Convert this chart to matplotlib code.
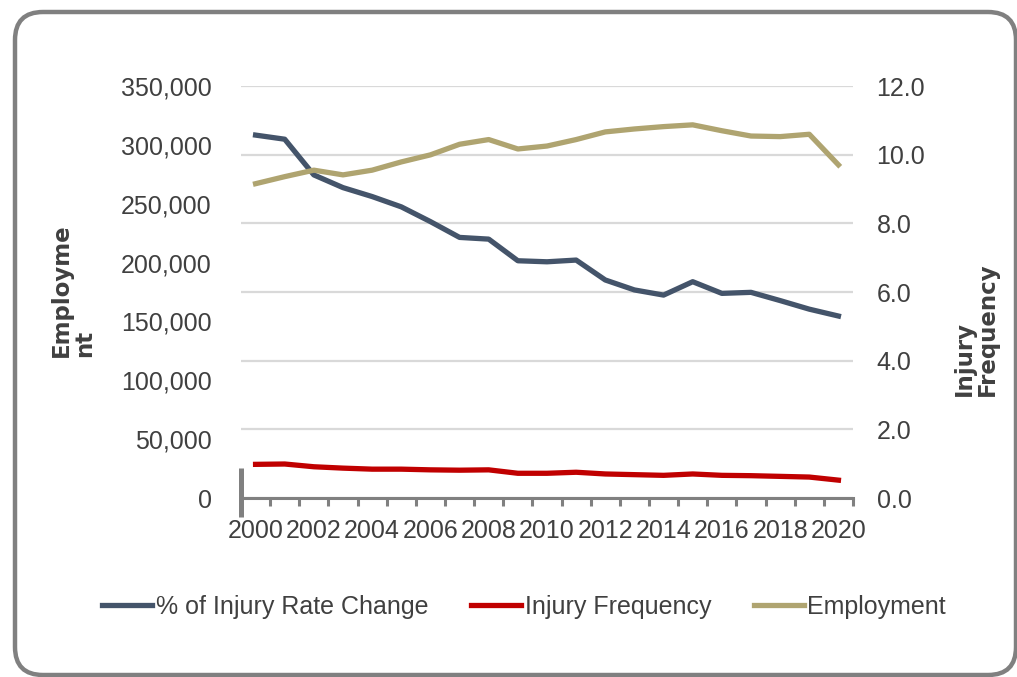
import matplotlib
matplotlib.use('Agg')
import matplotlib.pyplot as plt
from matplotlib.patches import FancyBboxPatch
from matplotlib.ticker import FuncFormatter
import numpy as np

plt.rcParams['font.family'] = ['Liberation Sans', 'DejaVu Sans']

years = list(range(2000, 2021))
rate_change = [10.57, 10.45, 9.41, 9.04, 8.78, 8.48, 8.05, 7.59, 7.54, 6.91, 6.88,
               6.93, 6.35, 6.06, 5.91, 6.30, 5.96, 5.99, 5.75, 5.50, 5.30]
injury_freq = [0.98, 0.99, 0.91, 0.87, 0.84, 0.84, 0.82, 0.81, 0.82, 0.72, 0.72,
               0.75, 0.70, 0.68, 0.66, 0.70, 0.66, 0.65, 0.63, 0.61, 0.52]
employment = [267000, 273000, 278500, 274500, 278500, 285500, 291500, 300500, 304500,
              296500, 299000, 304500, 311000, 313500, 315500, 317000, 312000, 307500,
              307000, 309000, 283000]

txt = '#404040'
axis_gray = '#808080'

fig = plt.figure(figsize=(10.17, 6.77), dpi=100)

# rounded frame around the whole chart (runs slightly past the right/bottom edge)
bg = fig.add_axes([0, 0, 1, 1])
bg.set_xlim(0, 1017)
bg.set_ylim(677, 0)
bg.axis('off')
bg.add_patch(FancyBboxPatch((15, 12), 1001, 663, boxstyle='round,pad=0,rounding_size=28',
                            fc='white', ec=axis_gray, lw=3.2))

ax = fig.add_axes([241 / 1017, 1 - 498 / 677, 612 / 1017, 412 / 677])
ax2 = ax.twinx()
ax.set_zorder(ax2.get_zorder() + 1)
ax.patch.set_visible(False)

x = np.arange(len(years))
l1, = ax2.plot(x, rate_change, color='#44546a', lw=3.8)
l2, = ax2.plot(x, injury_freq, color='#c00000', lw=3.8)
l3, = ax.plot(x, employment, color='#afa470', lw=3.8)

ax.set_xlim(-0.5, 20.5)
ax.set_ylim(0, 350000)
ax2.set_ylim(0, 12)

ax.set_yticks(range(0, 350001, 50000))
ax.yaxis.set_major_formatter(FuncFormatter(lambda v, p: f'{int(v):,}'))
ax2.set_yticks(np.arange(0, 12.1, 2))
ax2.yaxis.set_major_formatter(FuncFormatter(lambda v, p: f'{v:.1f}'))
ax2.grid(axis='y', color='#d9d9d9', lw=1.6)
ax2.set_axisbelow(True)

ax.set_xticks(x)
ax.set_xticklabels([str(y) if y % 2 == 0 else '' for y in years])
ax.set_xticks(np.arange(0.5, 20.6, 1), minor=True)

ax.tick_params(axis='y', length=0, pad=21, labelsize=18, labelcolor=txt)
ax2.tick_params(axis='y', length=0, pad=17, labelsize=18, labelcolor=txt)
ax.tick_params(axis='x', which='major', length=0, pad=15, labelsize=18, labelcolor=txt)
ax.tick_params(axis='x', which='minor', length=6, width=2.2, color=axis_gray)

for s in ['top', 'left', 'right']:
    ax.spines[s].set_visible(False)
ax.spines['bottom'].set_color(axis_gray)
ax.spines['bottom'].set_linewidth(2.2)
for s in ax2.spines.values():
    s.set_visible(False)

# short vertical stub where the category axis starts
ax.plot([-0.5, -0.5], [0.072, -0.046], transform=ax.get_xaxis_transform(),
        color=axis_gray, lw=3.6, clip_on=False, solid_capstyle='butt')

fig.text(73 / 1017, 1 - 290 / 677, 'Employme\nnt', rotation=90, ha='center', va='center',
         multialignment='left', fontsize=16.5, fontweight='bold', color=txt,
         family='DejaVu Sans', linespacing=1.0)
fig.text(976 / 1017, 1 - 329 / 677, 'Injury\nFrequency', rotation=90, ha='center', va='center',
         multialignment='left', fontsize=16.5, fontweight='bold', color=txt,
         family='DejaVu Sans', linespacing=1.0)

fig.legend([l1, l2, l3], ['% of Injury Rate Change', 'Injury Frequency', 'Employment'],
           loc='center', bbox_to_anchor=(524 / 1017, 1 - 607 / 677), ncol=3, frameon=False,
           fontsize=18, handlelength=2.0, handletextpad=0.15, columnspacing=1.7,
           labelcolor=txt)

fig.savefig('out.png', dpi=100)
